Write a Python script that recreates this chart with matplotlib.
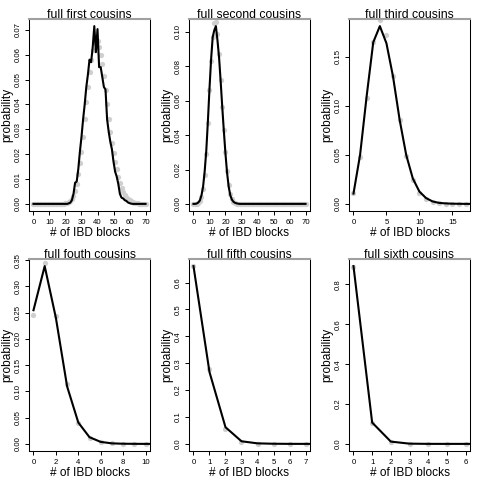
import matplotlib
matplotlib.use("Agg")
import matplotlib.pyplot as plt
import numpy as np

plt.rcParams['font.family'] = ['Liberation Sans', 'DejaVu Sans']

titles = ["full first cousins", "full second cousins", "full third cousins",
          "full fouth cousins", "full fifth cousins", "full sixth cousins"]
x_max = [70, 70, 17, 10, 7, 6]

gray1 = [0, 0, 0, 0, 0, 0, 0, 0, 0, 0, 0, 0, 0, 0, 0, 0, 0, 0, 0.0, 0.0001,
         0.0002, 0.0004, 0.0007, 0.0012, 0.002, 0.0032, 0.005, 0.0078, 0.012, 0.0163,
         0.021, 0.027, 0.034, 0.041, 0.047, 0.053, 0.058, 0.062, 0.065, 0.066,
         0.0657, 0.063, 0.060, 0.0563, 0.0513, 0.0457, 0.0403, 0.0343, 0.029, 0.0245,
         0.0205, 0.017, 0.014, 0.011, 0.0085, 0.0064, 0.0048, 0.0036, 0.0027, 0.002,
         0.0014, 0.001, 0.0007, 0.0005, 0.0003, 0.0002, 0.0001, 0.0001, 0, 0, 0]
black1 = [0, 0, 0, 0, 0, 0, 0, 0, 0, 0, 0, 0, 0, 0, 0, 0, 0, 0, 0, 0,
          0, 0, 0.0002, 0.0005, 0.0015, 0.004, 0.0085, 0.009, 0.014, 0.021,
          0.027, 0.034, 0.040, 0.047, 0.052, 0.058, 0.057, 0.063, 0.0715, 0.061,
          0.0703, 0.055, 0.055, 0.051, 0.047, 0.046, 0.034, 0.029, 0.025, 0.022,
          0.017, 0.013, 0.011, 0.008, 0.004, 0.0025, 0.0022, 0.0015, 0.0012, 0.0006,
          0.0003, 0.0001, 0, 0, 0, 0, 0, 0, 0, 0, 0]

gray2 = [0, 0, 0.0002, 0.0005, 0.0015, 0.004, 0.0085, 0.017, 0.029, 0.047,
         0.066, 0.083, 0.097, 0.1055, 0.1058, 0.099, 0.087, 0.072, 0.0565, 0.043,
         0.030, 0.019, 0.011, 0.006, 0.0028, 0.0012, 0.0005, 0.0002, 0.0001, 0,
         0, 0, 0, 0, 0, 0, 0, 0, 0, 0, 0, 0, 0, 0, 0, 0, 0, 0, 0, 0,
         0, 0, 0, 0, 0, 0, 0, 0, 0, 0, 0, 0, 0, 0, 0, 0, 0, 0, 0, 0, 0]
black2 = [0, 0, 0.0002, 0.0008, 0.002, 0.005, 0.010, 0.019, 0.031, 0.048,
          0.067, 0.084, 0.097, 0.101, 0.1034, 0.095, 0.085, 0.071, 0.056, 0.042,
          0.029, 0.018, 0.010, 0.005, 0.0025, 0.0012, 0.0006, 0.0003, 0.0001, 0,
          0, 0, 0, 0, 0, 0, 0, 0, 0, 0, 0, 0, 0, 0, 0, 0, 0, 0, 0, 0,
          0, 0, 0, 0, 0, 0, 0, 0, 0, 0, 0, 0, 0, 0, 0, 0, 0, 0, 0, 0, 0]

gray3 = [0.011, 0.0477, 0.108, 0.165, 0.1875, 0.172, 0.131, 0.086, 0.049, 0.0245,
         0.0116, 0.0045, 0.0018, 0.0007, 0.0003, 0.0001, 0.0, 0.0]
black3 = [0.0105, 0.050, 0.110, 0.165, 0.1815, 0.164, 0.130, 0.086, 0.050, 0.026,
          0.0126, 0.006, 0.0025, 0.001, 0.0005, 0.0002, 0.0001, 0.0, 0.0]

gray4 = [0.2456, 0.345, 0.243, 0.1145, 0.0395, 0.011, 0.003, 0.0008, 0.0002, 0.0, 0.0]
black4 = [0.2546, 0.3386, 0.240, 0.1095, 0.0407, 0.0127, 0.0038, 0.001, 0.0003, 0.0001, 0.0, 0.0]

gray5 = [0.66, 0.277, 0.056, 0.008, 0.001, 0.0002, 0.0, 0.0]
black5 = [0.661, 0.267, 0.062, 0.0097, 0.002, 0.0005, 0.0001, 0.0, 0.0]

gray6 = [0.888, 0.103, 0.008, 0.0006, 0.0, 0.0, 0.0]
black6 = [0.892, 0.107, 0.0115, 0.0012, 0.0001, 0.0, 0.0, 0.0]

x_ticks = [[0, 10, 20, 30, 40, 50, 60, 70],
           [0, 10, 20, 30, 40, 50, 60, 70],
           [0, 5, 10, 15],
           [0, 2, 4, 6, 8, 10],
           [0, 1, 2, 3, 4, 5, 6, 7],
           [0, 1, 2, 3, 4, 5, 6]]
y_ticks = [[0.00, 0.01, 0.02, 0.03, 0.04, 0.05, 0.06, 0.07],
           [0.00, 0.02, 0.04, 0.06, 0.08, 0.10],
           [0.00, 0.05, 0.10, 0.15],
           [0.00, 0.05, 0.10, 0.15, 0.20, 0.25, 0.30, 0.35],
           [0.0, 0.1, 0.2, 0.3, 0.4, 0.5, 0.6],
           [0.0, 0.2, 0.4, 0.6, 0.8]]
y_fmt = ["%.2f", "%.2f", "%.2f", "%.2f", "%.1f", "%.1f"]

grays = [gray1, gray2, gray3, gray4, gray5, gray6]
blacks = [black1, black2, black3, black4, black5, black6]

W = H = 480.0
lefts = [29, 189, 349]
tops = [19, 259]
pw, ph = 121, 192

fig = plt.figure(figsize=(4.8, 4.8), dpi=100)
for i in range(6):
    r, c = divmod(i, 3)
    ax = fig.add_axes([lefts[c] / W, 1 - (tops[r] + ph) / H, pw / W, ph / H])
    g = np.array(grays[i], dtype=float)
    b = np.array(blacks[i], dtype=float)
    xg = np.arange(len(g))
    xb = np.arange(len(b))
    ax.plot(xg, g, 'o', color='#cfcfcf', markersize=3.8, markeredgewidth=0, zorder=2)
    ax.plot(xb, b, '-', color='black', linewidth=1.5, zorder=3)
    xm = x_max[i]
    ax.set_xlim(-0.04 * xm, xm * 1.04)
    vis = b[xb <= xm]
    lo, hi = vis.min(), vis.max()
    rng = hi - lo
    ax.set_ylim(lo - 0.04 * rng, hi + 0.04 * rng)
    ax.set_xticks(x_ticks[i])
    ax.set_xticklabels([str(t) for t in x_ticks[i]])
    ax.set_yticks(y_ticks[i])
    ax.set_yticklabels([y_fmt[i] % t for t in y_ticks[i]])
    ax.tick_params(axis='both', labelsize=5.6, length=3, width=0.7, colors='black')
    ax.tick_params(axis='x', pad=3)
    ax.tick_params(axis='y', pad=2)
    for lab in ax.get_yticklabels():
        lab.set_rotation(90)
        lab.set_va('center')
    for s in ['left', 'right', 'bottom']:
        ax.spines[s].set_color('black')
        ax.spines[s].set_linewidth(0.75)
    ax.spines['top'].set_color('#a0a0a0')
    ax.spines['top'].set_linewidth(1.5)
    ax.text(0.5, 1.004, titles[i], transform=ax.transAxes, ha='center',
            va='baseline', fontsize=8.8)
    ax.text(0.5, -0.115, "# of IBD blocks", transform=ax.transAxes, ha='center',
            va='center', fontsize=8.6)
    ax.text(-0.18, 0.5, "probability", transform=ax.transAxes, ha='center',
            va='center', rotation=90, fontsize=8.6)

fig.savefig("out.png", dpi=100)
